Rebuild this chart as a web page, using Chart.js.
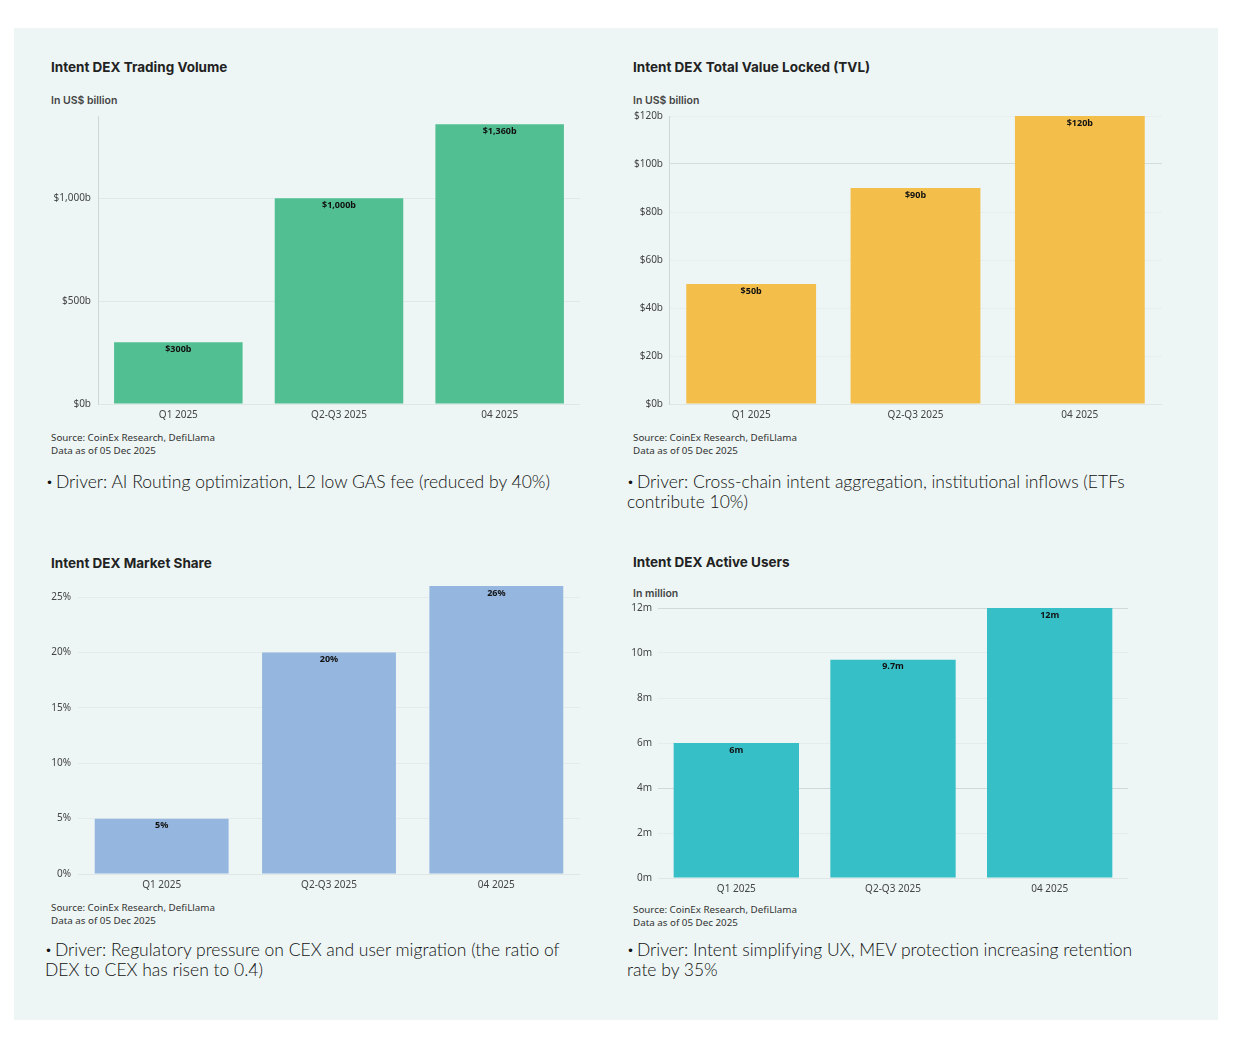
<!DOCTYPE html>
<html>
<head>
<meta charset="utf-8">
<script src="https://cdn.jsdelivr.net/npm/chart.js@4.4.0/dist/chart.umd.min.js"></script>
<style>
  html, body { margin: 0; padding: 0; background: #ffffff; }
  body { width: 1234px; height: 1040px; position: relative; overflow: hidden; font-family: "Noto Sans", sans-serif; }
  .panel { position: absolute; left: 14px; top: 28px; width: 1204px; height: 992px; background: #edf6f5; }
  .abs { position: absolute; white-space: nowrap; }
  .title { font-family: Inter, "Noto Sans", sans-serif; font-weight: 700; font-size: 13.5px; color: #222; }
  .sub { font-family: Inter, "Noto Sans", sans-serif; font-weight: 600; font-size: 10.5px; color: #444; }
  .src { font-family: "Noto Sans", sans-serif; font-size: 9.8px; line-height: 13px; color: #333; }
  .driver { font-family: Lato, "Noto Sans", sans-serif; font-weight: 300; font-size: 17.5px; line-height: 20px; color: #111; }
  .dot { font-size: 12px; vertical-align: 2px; margin-right: 3px; }
  canvas { position: absolute; }
</style>
</head>
<body>
<div class="panel"></div>

<div class="abs title" style="left:51px; top:59px;">Intent DEX Trading Volume</div>
<div class="abs sub" style="left:51px; top:94px;">In US$ billion</div>
<canvas id="volumeChart" style="left:40px; top:110px; width:540px; height:315px;"></canvas>
<div class="abs src" style="left:51px; top:431px;">Source: CoinEx Research, DefiLlama<br>Data as of 05 Dec 2025</div>
<div class="abs driver" style="left:46px; top:472px;"><span class="dot">•</span>Driver: AI Routing optimization, L2 low GAS fee (reduced by 40%)</div>

<div class="abs title" style="left:633px; top:59px;">Intent DEX Total Value Locked (TVL)</div>
<div class="abs sub" style="left:633px; top:94px;">In US$ billion</div>
<canvas id="tvlChart" style="left:621px; top:108px; width:541px; height:317px;"></canvas>
<div class="abs src" style="left:633px; top:431px;">Source: CoinEx Research, DefiLlama<br>Data as of 05 Dec 2025</div>
<div class="abs driver" style="left:627px; top:472px;"><span class="dot">•</span>Driver: Cross-chain intent aggregation, institutional inflows (ETFs<br>contribute 10%)</div>

<div class="abs title" style="left:51px; top:555px;">Intent DEX Market Share</div>
<canvas id="shareChart" style="left:40px; top:570px; width:540px; height:325px;"></canvas>
<div class="abs src" style="left:51px; top:901px;">Source: CoinEx Research, DefiLlama<br>Data as of 05 Dec 2025</div>
<div class="abs driver" style="left:45px; top:940px;"><span class="dot">•</span>Driver: Regulatory pressure on CEX and user migration (the ratio of<br>DEX to CEX has risen to 0.4)</div>

<div class="abs title" style="left:633px; top:554px;">Intent DEX Active Users</div>
<div class="abs sub" style="left:633px; top:587px;">In million</div>
<canvas id="usersChart" style="left:620px; top:600px; width:508px; height:299px;"></canvas>
<div class="abs src" style="left:633px; top:903px;">Source: CoinEx Research, DefiLlama<br>Data as of 05 Dec 2025</div>
<div class="abs driver" style="left:627px; top:940px;"><span class="dot">•</span>Driver: Intent simplifying UX, MEV protection increasing retention<br>rate by 35%</div>

<script>
// categories and values
const quarters = ['Q1 2025', 'Q2-Q3 2025', '04 2025'];

const volumeValues = [300, 1000, 1360];
const volumeLabels = ['$300b', '$1,000b', '$1,360b'];
const volumeTicks = [0, 500, 1000];

const tvlValues = [50, 90, 120];
const tvlLabels = ['$50b', '$90b', '$120b'];
const tvlTicks = [0, 20, 40, 60, 80, 100, 120];

const shareValues = [5, 20, 26];
const shareLabels = ['5%', '20%', '26%'];
const shareTicks = [0, 5, 10, 15, 20, 25];

const userValues = [6, 9.7, 12];
const userLabels = ['6m', '9.7m', '12m'];
const userTicks = [0, 2, 4, 6, 8, 10, 12];

// writes the value text just inside the top of each bar
const barLabels = {
    id: 'barLabels',
    afterDatasetsDraw(chart, args, opts) {
        const ctx = chart.ctx;
        const meta = chart.getDatasetMeta(0);
        ctx.save();
        ctx.font = 'bold 9px "Noto Sans", sans-serif';
        ctx.fillStyle = '#111';
        ctx.textAlign = 'center';
        ctx.textBaseline = 'middle';
        meta.data.forEach((bar, i) => {
            ctx.fillText(opts.labels[i], bar.x, bar.y + 7);
        });
        ctx.restore();
    }
};

function makeBarChart(id, o) {
    const canvas = document.getElementById(id);
    return new Chart(canvas.getContext('2d'), {
        type: 'bar',
        data: {
            labels: quarters,
            datasets: [{
                data: o.values,
                backgroundColor: o.color,
                barPercentage: o.barPct,
                categoryPercentage: 1
            }]
        },
        options: {
            responsive: false,
            animation: false,
            devicePixelRatio: 1,
            layout: { padding: { top: o.padTop, right: 0, left: 0, bottom: 0 } },
            plugins: {
                legend: { display: false },
                tooltip: { enabled: false },
                barLabels: { labels: o.labels }
            },
            scales: {
                x: {
                    grid: { display: false, drawTicks: false },
                    border: { display: true, color: '#dfe6e6' },
                    ticks: { color: '#444', padding: 5, font: { size: 10, family: '"Noto Sans", sans-serif' } },
                    afterFit: s => { s.height = 21; }
                },
                y: {
                    min: 0,
                    max: o.max,
                    grid: { drawTicks: false, color: o.gridColor || '#dde7e7' },
                    border: { display: o.yBorder, color: '#cfd6d6' },
                    ticks: {
                        color: '#444',
                        padding: o.tickPad,
                        font: { size: 10, family: '"Noto Sans", sans-serif' },
                        callback: o.fmt
                    },
                    afterBuildTicks: s => { s.ticks = o.ticks.map(v => ({ value: v })); },
                    afterFit: s => { s.width = o.yWidth; s.paddingTop = 0; s.paddingBottom = 0; }
                }
            }
        },
        plugins: [barLabels]
    });
}

makeBarChart('volumeChart', {
    values: volumeValues, labels: volumeLabels, ticks: volumeTicks,
    color: '#52bf93', barPct: 0.8, max: 1400, padTop: 6, yWidth: 58, tickPad: 7, yBorder: true,
    gridColor: '#e0e9e9',
    fmt: v => '$' + v.toLocaleString('en-US') + 'b'
});

makeBarChart('tvlChart', {
    values: tvlValues, labels: tvlLabels, ticks: tvlTicks,
    color: '#f3be4a', barPct: 0.79, max: 120, padTop: 8, yWidth: 48, tickPad: 6, yBorder: true,
    gridColor: ctx => (ctx.tick && ctx.tick.value === 100) ? '#d3dddd' : '#e6eeee',
    fmt: v => '$' + v + 'b'
});

makeBarChart('shareChart', {
    values: shareValues, labels: shareLabels, ticks: shareTicks,
    color: '#95b6de', barPct: 0.8, max: 27, padTop: 5, yWidth: 38, tickPad: 7, yBorder: false,
    gridColor: '#e3ebeb',
    fmt: v => v + '%'
});

makeBarChart('usersChart', {
    values: userValues, labels: userLabels, ticks: userTicks,
    color: '#37bfc8', barPct: 0.8, max: 12, padTop: 8, yWidth: 38, tickPad: 6, yBorder: false,
    gridColor: ctx => (ctx.tick && (ctx.tick.value === 12 || ctx.tick.value === 4)) ? '#cfd9d9' : '#e4ecec',
    fmt: v => v + 'm'
});
</script>
</body>
</html>
